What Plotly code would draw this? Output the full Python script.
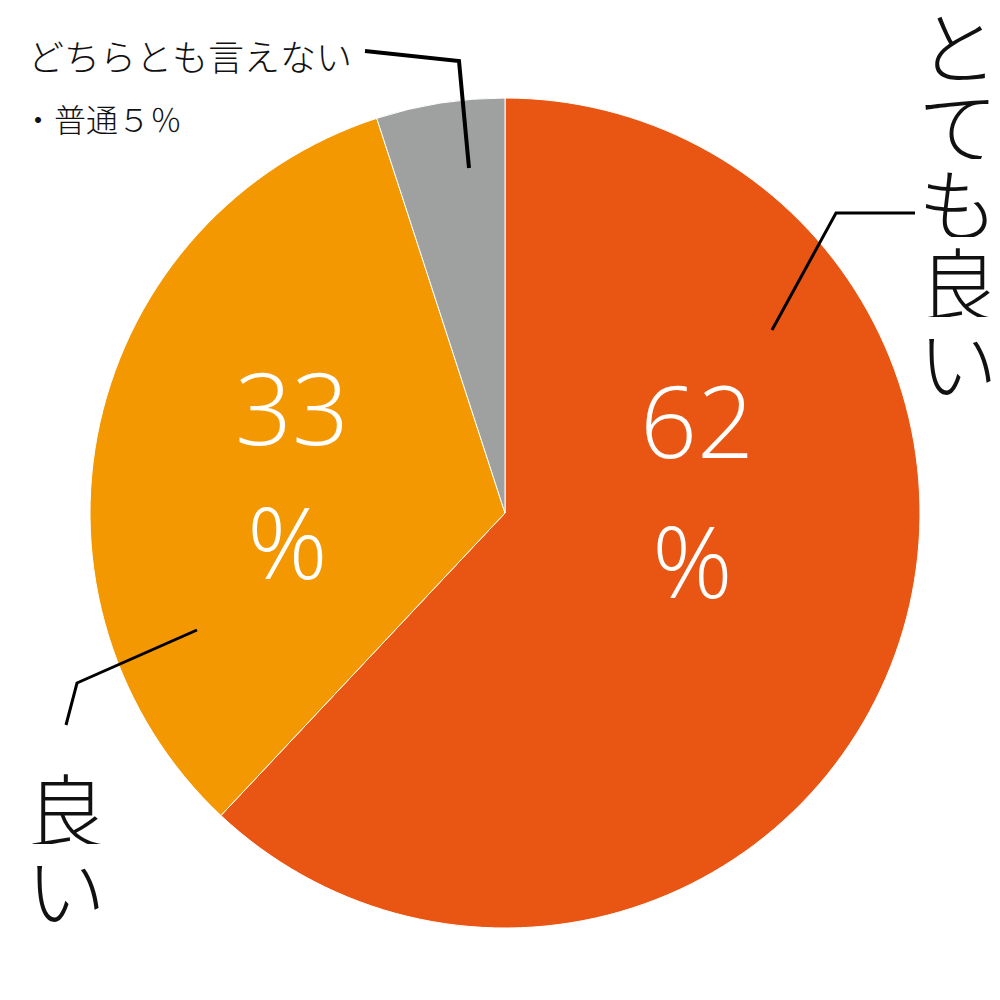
import plotly.graph_objects as go

labels = ["とても良い", "良い", "どちらとも言えない・普通"]
values = [62, 33, 5]
colors = ["#E95513", "#F39800", "#9FA0A0"]

fig = go.Figure()
fig.add_trace(go.Pie(
    labels=labels, values=values, sort=False, direction="clockwise", rotation=0,
    marker=dict(colors=colors, line=dict(color="white", width=1)),
    textinfo="none", hoverinfo="label+percent", showlegend=False,
    domain=dict(x=[0.09, 0.92], y=[0.072, 0.902]),
))

W, H = 1000, 1000
def px(x): return x / W
def py(y): return 1 - y / H

num_font = dict(family="Open Sans, Lato, sans-serif", size=100, color="white", weight=300)
ann = []
for txt, (cx, y1, y2) in zip([f"{values[0]}", f"{values[1]}"], [(697, 419, 559), (292, 406, 540)]):
    ann.append(dict(x=px(cx), y=py(y1), text=txt, showarrow=False, xref="paper", yref="paper",
                    font=num_font, xanchor="center", yanchor="middle"))
    ann.append(dict(x=px(cx - 5), y=py(y2), text="%", showarrow=False, xref="paper", yref="paper",
                    font=num_font, xanchor="center", yanchor="middle"))

jp = "Noto Sans CJK JP"
for label, x0, y0, step, size in [(labels[0], 958, 42, 79, 80), (labels[1], 66, 806, 80, 80)]:
    for i, ch in enumerate(label):
        ann.append(dict(x=px(x0), y=py(y0 + i * step), text=ch, showarrow=False,
                        xref="paper", yref="paper", xanchor="center", yanchor="middle",
                        height=step - 4, width=76, valign="middle", borderpad=0, borderwidth=0,
                        font=dict(family=jp, size=size, color="#111", weight=300)))

ann.append(dict(x=px(26), y=py(55), text="どちらとも言えない", showarrow=False, xref="paper", yref="paper",
                xanchor="left", yanchor="middle", font=dict(family=jp, size=36, color="#111", weight=300)))
ann.append(dict(x=px(20), y=py(118), text="・普通５％", showarrow=False, xref="paper", yref="paper",
                xanchor="left", yanchor="middle", font=dict(family=jp, size=32, color="#111", weight=300)))

shapes = []
def poly(pts, w):
    path = "M " + " L ".join(f"{px(x)},{py(y)}" for x, y in pts)
    shapes.append(dict(type="path", path=path, xref="paper", yref="paper",
                       line=dict(color="black", width=w)))
poly([(365, 51), (459, 61), (469, 168)], 4)
poly([(915, 213), (836, 213), (772, 330)], 3)
poly([(197, 630), (77, 683), (66, 725)], 3)

fig.update_layout(width=W, height=H, margin=dict(l=0, r=0, t=0, b=0),
                  paper_bgcolor="white", plot_bgcolor="white",
                  annotations=ann, shapes=shapes)
fig.write_html("out.html", config={"displayModeBar": False},
               post_script="document.body.style.margin='0';document.body.style.overflow='hidden';")
